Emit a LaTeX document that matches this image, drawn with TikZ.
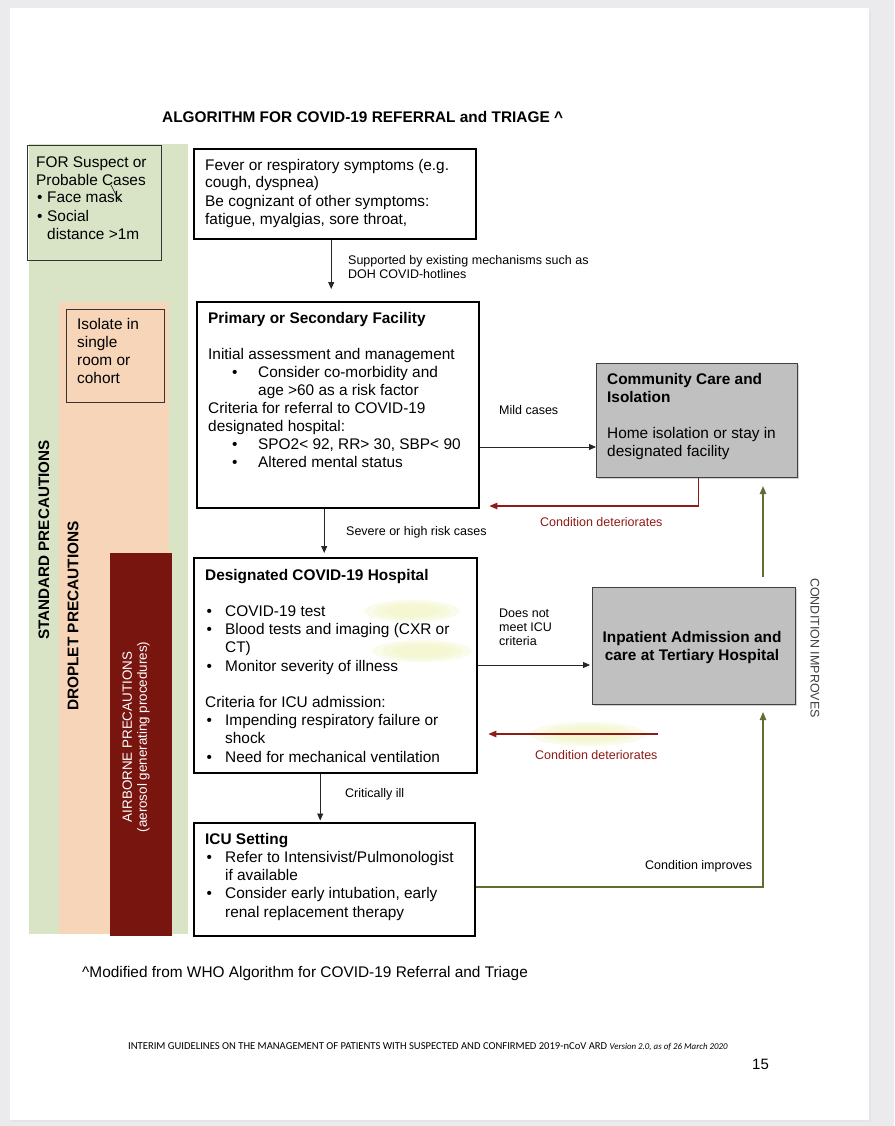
\documentclass[tikz,border=0pt]{standalone}
\usepackage{fontspec}
\setmainfont{Liberation Sans}
\newfontfamily\footfont{Carlito}
\usetikzlibrary{arrows.meta,calc,shadows}
\definecolor{pagebg}{HTML}{EBEBEE}
\definecolor{stdgreen}{HTML}{D9E4C6}
\definecolor{peach}{HTML}{F6D5B9}
\definecolor{airred}{HTML}{78150F}
\definecolor{detred}{HTML}{8E1B17}
\definecolor{impgreen}{HTML}{5F6E36}
\definecolor{boxgray}{HTML}{C0C0C0}
\definecolor{hlyellow}{HTML}{F2F6C4}
\newcommand\mybul[2]{\hspace*{#1}\makebox[#2][l]{\textbullet}}
\newcommand\bx{\fontsize{15.4}{18}\selectfont}
\newcommand\bxb{\fontsize{15.4}{18.2}\selectfont}
\newcommand\sm{\fontsize{12.5}{14}\selectfont}
\begin{document}
\begin{tikzpicture}[x=1pt,y=-1pt,
  mainbox/.style={draw=black, line width=2.4pt, fill=white, rectangle, inner sep=0pt, anchor=north west},
  graybox/.style={draw=black!75, line width=1.1pt, fill=boxgray, rectangle, inner sep=0pt, anchor=north west,
     drop shadow={shadow xshift=1.5pt, shadow yshift=-1.5pt, opacity=0.35}},
  thinbox/.style={draw=black!80, line width=0.9pt, rectangle, inner sep=0pt, anchor=north west},
  txt/.style={anchor=base west, inner sep=0pt, align=left, font=\bx},
  lbl/.style={anchor=base west, inner sep=0pt, align=left, font=\sm},
  arr/.style={draw=black!85, line width=0.9pt, -{Triangle[length=7pt,width=6pt]}},
  redarr/.style={draw=detred, line width=1.2pt, -{Triangle[length=8pt,width=6.5pt]}},
  grnarr/.style={draw=impgreen, line width=1.2pt, -{Triangle[length=8pt,width=6.5pt]}},
  hl/.style={fill=hlyellow, opacity=0.35}]
\useasboundingbox (0,0) rectangle (894,1126);
% page
\fill[pagebg] (0,0) rectangle (894,1126);
\fill[black!10] (11,10) rectangle (871,1122);
\fill[white] (10,8) rectangle (869,1120);
% precaution bars
\fill[stdgreen] (29,144) rectangle (188,934);
\fill[peach] (59,302) rectangle (169,934);
\fill[airred] (110,553) rectangle (172,936);
% title
\node[anchor=base west, inner sep=0pt, font=\bfseries\fontsize{15.4}{18}\selectfont] (title) at (162,123) {ALGORITHM FOR COVID-19 REFERRAL and TRIAGE \textasciicircum};
% left boxes (multi-line text nodes are placed by the baseline of their last line)
\node[thinbox, minimum width=134pt, minimum height=115pt] (lb) at (27,145) {};
\node[txt] (lbt) at (36,239) {FOR Suspect or\\Probable Cases\\\mybul{1pt}{10pt}Face mask\\\mybul{1pt}{10pt}Social\\\hspace*{11pt}distance >1m};
\draw[black, line width=0.6pt] (111,185) -- (119,201);
\node[thinbox, minimum width=98pt, minimum height=93pt] (iso) at (66,309) {};
\node[txt] (isot) at (77,383) {Isolate in\\single\\room or\\cohort};
% rotated bar labels
\node[rotate=90, inner sep=0pt, font=\bfseries\fontsize{15.2}{18}\selectfont] (std) at (44,540) {STANDARD PRECAUTIONS};
\node[rotate=90, inner sep=0pt, font=\bfseries\fontsize{15.4}{18}\selectfont] (drop) at (73,616) {DROPLET PRECAUTIONS};
\node[rotate=90, inner sep=0pt, align=center, text=white, font=\fontsize{13.4}{15}\selectfont] (air) at (136,737) {AIRBORNE PRECAUTIONS\\(aerosol generating procedures)};
% main boxes
\node[mainbox, minimum width=282pt, minimum height=90pt] (b1) at (193,148) {};
\node[txt] (b1t) at (205,224) {Fever or respiratory symptoms (e.g.\\cough, dyspnea)\\Be cognizant of other symptoms:\\fatigue, myalgias, sore throat,};
\node[mainbox, minimum width=282pt, minimum height=206pt] (b2) at (196,301) {};
\node[txt] (b2t) at (208,467) {{\bfseries Primary or Secondary Facility}\\[18pt]
Initial assessment and management\\
\mybul{24pt}{26pt}Consider co-morbidity and\\
\hspace*{50pt}age >60 as a risk factor\\
Criteria for referral to COVID-19\\
designated hospital:\\
\mybul{24pt}{26pt}SPO2< 92, RR> 30, SBP< 90\\
\mybul{24pt}{26pt}Altered mental status};
\node[mainbox, minimum width=283pt, minimum height=215pt] (b3) at (193,557) {};
% soft highlights
\foreach \s in {1.0,0.8,0.6} {
  \fill[hl] (412,611) ellipse ({48*\s} and {11*\s});
  \fill[hl] (422,651) ellipse ({50*\s} and {11*\s});
  \fill[hl] (588,734) ellipse ({58*\s} and {12*\s});
}
\node[txt, font=\bxb] (b3t) at (205,762) {{\bfseries Designated COVID-19 Hospital}\\[18.2pt]
\mybul{1.5pt}{18.5pt}COVID-19 test\\
\mybul{1.5pt}{18.5pt}Blood tests and imaging (CXR or\\
\hspace*{20pt}CT)\\
\mybul{1.5pt}{18.5pt}Monitor severity of illness\\[18.2pt]
Criteria for ICU admission:\\
\mybul{1.5pt}{18.5pt}Impending respiratory failure or\\
\hspace*{20pt}shock\\
\mybul{1.5pt}{18.5pt}Need for mechanical ventilation};
\node[mainbox, minimum width=281pt, minimum height=113pt] (b4) at (193,822) {};
\node[txt, font=\bxb] (b4t) at (205,917) {{\bfseries ICU Setting}\\
\mybul{1.5pt}{18.5pt}Refer to Intensivist/Pulmonologist\\
\hspace*{20pt}if available\\
\mybul{1.5pt}{18.5pt}Consider early intubation, early\\
\hspace*{20pt}renal replacement therapy};
% gray boxes
\node[graybox, minimum width=201pt, minimum height=114pt] (cc) at (596,363) {};
\node[txt] (cct) at (607,456) {{\bfseries Community Care and}\\{\bfseries Isolation}\\[18pt]Home isolation or stay in\\designated facility};
\node[graybox, minimum width=203pt, minimum height=117pt] (ip) at (592,587) {};
\node[anchor=base, inner sep=0pt, align=center, font=\bfseries\bx] (ipt) at (692,660) {Inpatient Admission and\\care at Tertiary Hospital};
% coordinates
\coordinate (mildy) at (0,447);
\coordinate (det1) at (0,506);
\coordinate (dny) at (0,665);
\coordinate (det2s) at (658,734);
\coordinate (impy) at (0,887);
\coordinate (gx) at (763,0);
% connectors
\draw[arr, shorten >=12pt] ([xshift=-4pt]b1.south) -- ([xshift=-4pt]b1.south |- b2.north);
\draw[arr, shorten >=4pt] ([xshift=-14pt]b2.south) -- ([xshift=-14pt]b2.south |- b3.north);
\draw[arr, shorten >=1.5pt] ([xshift=-15.5pt]b3.south) -- ([xshift=-15.5pt]b3.south |- b4.north);
\draw[arr] (b2.east |- mildy) -- (cc.west |- mildy);
\draw[arr, shorten >=2pt] (b3.east |- dny) -- (ip.west |- dny);
\draw[redarr, shorten >=9pt] ([xshift=1.5pt]cc.south) |- (b2.east |- det1);
\draw[redarr, shorten >=10pt] (det2s) -- (b3.east |- det2s);
\draw[grnarr, shorten <=10pt, shorten >=8pt] (ip.north -| gx) -- (cc.south -| gx);
\draw[grnarr, shorten >=7pt] (b4.east |- impy) -| (ip.south -| gx);
% connector labels
\node[lbl] (l1) at (348,278) {Supported by existing mechanisms such as\\DOH COVID-hotlines};
\node[lbl] (l2) at (346,535) {Severe or high risk cases};
\node[lbl] (l3) at (345,797.5) {Critically ill};
\node[lbl] (l4) at (499,414.5) {Mild cases};
\node[lbl, text=detred] (l5) at (540,526.5) {Condition deteriorates};
\node[lbl] (l6) at (499,645) {Does not\\meet ICU\\criteria};
\node[lbl, text=detred] (l7) at (535,759.5) {Condition deteriorates};
\node[lbl] (l8) at (645,869.5) {Condition improves};
\node[rotate=-90, inner sep=0pt, text=black!75, font=\sm] (ci) at (815,648) {CONDITION IMPROVES};
% footnotes
\node[anchor=base west, inner sep=0pt, font=\bx] (fn) at (82,977) {\textasciicircum Modified from WHO Algorithm for COVID-19 Referral and Triage};
\node[anchor=base west, inner sep=0pt, font=\footfont\fontsize{10.6}{12}\selectfont] (foot) at (128,1049) {INTERIM GUIDELINES ON THE MANAGEMENT OF PATIENTS WITH SUSPECTED AND CONFIRMED 2019-nCoV ARD {\itshape\fontsize{8.9}{10}\selectfont Version 2.0, as of 26 March 2020}};
\node[anchor=base west, inner sep=0pt, font=\fontsize{15}{18}\selectfont] (pg) at (752,1069) {15};
\end{tikzpicture}
\end{document}
